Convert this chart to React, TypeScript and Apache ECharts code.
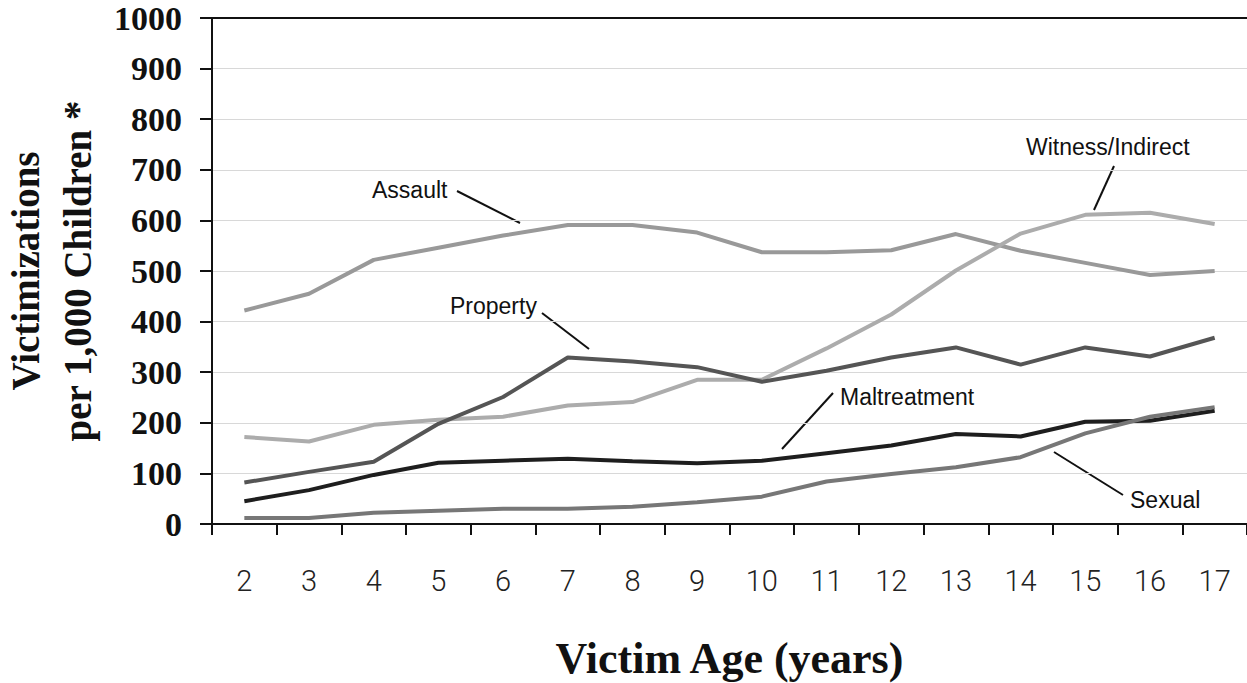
import React, { useEffect, useRef } from "react";
import * as echarts from "echarts";

const ages = ["2", "3", "4", "5", "6", "7", "8", "9", "10", "11", "12", "13", "14", "15", "16", "17"];
const assault = [422, 455, 522, 546, 570, 591, 591, 576, 537, 537, 541, 573, 540, 516, 492, 500];
const witness = [172, 163, 196, 206, 212, 234, 241, 285, 285, 347, 414, 501, 574, 611, 615, 593];
const property = [82, 103, 123, 198, 251, 329, 321, 310, 281, 303, 329, 349, 315, 349, 331, 368];
const maltreatment = [45, 67, 97, 121, 125, 129, 124, 120, 125, 140, 155, 178, 173, 202, 204, 224];
const sexual = [12, 12, 22, 26, 30, 30, 34, 43, 54, 84, 99, 112, 132, 179, 212, 231];

const labelFont = "'Liberation Sans', Arial, sans-serif";
const serif = "'Liberation Serif', 'Times New Roman', serif";

export default function App() {
  const ref = useRef<HTMLDivElement>(null);
  useEffect(() => {
    const chart = echarts.init(ref.current!, null, { renderer: "svg" });
    const lineSeries = (name: string, data: number[], color: string) => ({
      name,
      type: "line",
      data,
      symbol: "none",
      lineStyle: { color, width: 4 },
      itemStyle: { color },
    });
    const ann = (text: string, x: number, y: number) => ({
      type: "text",
      x,
      y,
      style: { text, font: `23px ${labelFont}`, fill: "#111", textAlign: "left", textVerticalAlign: "middle" },
    });
    const lead = (x1: number, y1: number, x2: number, y2: number) => ({
      type: "line",
      shape: { x1, y1, x2, y2 },
      style: { stroke: "#111", lineWidth: 2 },
    });
    chart.setOption({
      animation: false,
      backgroundColor: "#fff",
      grid: { left: 212, right: 0, top: 18, bottom: 159, containLabel: false, outerBoundsMode: "none" },
      xAxis: [
        {
          type: "category",
          data: ages,
          boundaryGap: true,
          axisLine: { lineStyle: { color: "#111", width: 2 } },
          axisTick: { show: true, length: 11, lineStyle: { color: "#111", width: 2 }, alignWithLabel: false },
          axisLabel: {
            color: "#222",
            fontFamily: "Roboto, sans-serif",
            fontWeight: 300,
            fontSize: 29,
            margin: 42,
          },
          name: "Victim Age (years)",
          nameLocation: "middle",
          nameGap: 112,
          nameTextStyle: { fontFamily: serif, fontWeight: "bold", fontSize: 44, color: "#111" },
        },
        {
          type: "category",
          data: ages,
          position: "top",
          axisLine: { lineStyle: { color: "#111", width: 2 } },
          axisTick: { show: false },
          axisLabel: { show: false },
        },
      ],
      yAxis: {
        type: "value",
        min: 0,
        max: 1000,
        interval: 100,
        axisLine: { show: true, lineStyle: { color: "#111", width: 2 } },
        axisTick: { show: true, length: 12, lineStyle: { color: "#111", width: 2 } },
        splitLine: { lineStyle: { color: "#d8d8d8", width: 1 } },
        axisLabel: {
          color: "#111",
          fontFamily: serif,
          fontWeight: "bold",
          fontSize: 34,
          margin: 30,
          formatter: (v: number) => String(v),
        },
        name: "Victimizations\nper 1,000 Children *",
        nameLocation: "middle",
        nameGap: 107,
        nameTextStyle: { fontFamily: serif, fontWeight: "bold", fontSize: 39, lineHeight: 52, color: "#111" },
      },
      series: [
        lineSeries("Assault", assault, "#999999"),
        lineSeries("Witness/Indirect", witness, "#acacac"),
        lineSeries("Property", property, "#555555"),
        lineSeries("Maltreatment", maltreatment, "#1e1e1e"),
        lineSeries("Sexual", sexual, "#777777"),
      ],
      graphic: [
        ann("Assault", 372, 190),
        lead(457, 191, 520, 223),
        ann("Property", 450, 306),
        lead(542, 313, 589, 349),
        ann("Witness/Indirect", 1026, 147),
        lead(1114, 166, 1094, 210),
        ann("Maltreatment", 840, 397),
        lead(833, 393, 782, 449),
        ann("Sexual", 1130, 500),
        lead(1123, 495, 1054, 452),
      ],
    });
    return () => chart.dispose();
  }, []);
  return <div ref={ref} style={{ position: "fixed", left: 0, top: 0, width: 1247, height: 683 }} />;
}
